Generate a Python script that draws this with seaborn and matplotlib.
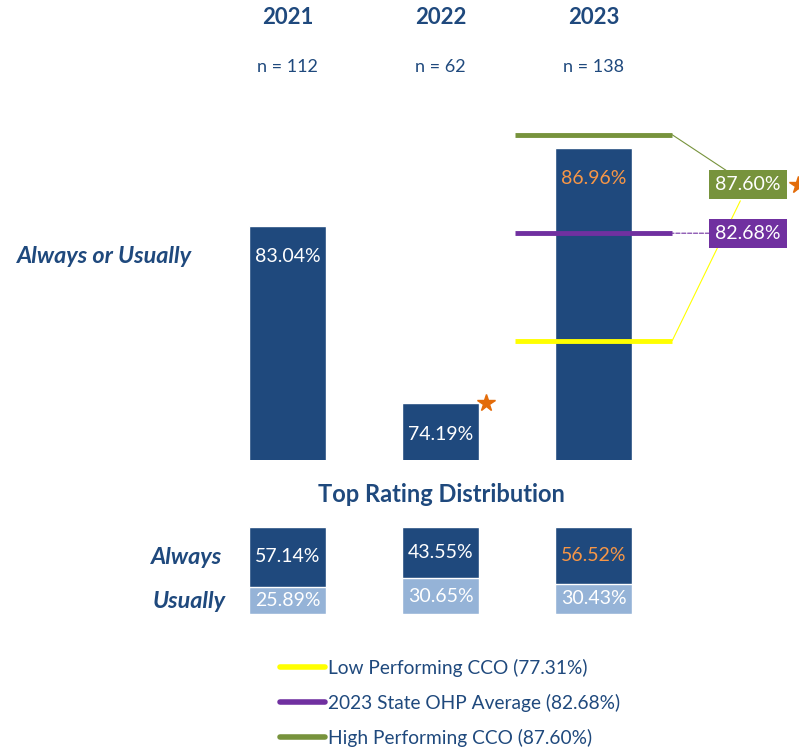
import numpy as np
import seaborn as sns
import matplotlib.pyplot as plt
from matplotlib.lines import Line2D

years = ["2021", "2022", "2023"]
n_sizes = [112, 62, 138]
always_usually = [83.04, 74.19, 86.96]
always = [57.14, 43.55, 56.52]
usually = [25.89, 30.65, 30.43]
ref_names = ["Low Performing CCO", "2023 State OHP Average", "High Performing CCO"]
ref_values = [77.31, 82.68, 87.60]
ref_colors = ["#FFFF00", "#7030A0", "#77933C"]
starred_years = ["2022"]

navy = "#1F497D"
light = "#95B3D7"
orange = "#F79646"
star_col = "#E36C0A"
txt = "#1F497D"

sns.set_theme(style="white")
plt.rcParams["font.family"] = ["Lato", "DejaVu Sans"]

fig = plt.figure(figsize=(7.99, 7.51), dpi=100)
W, H = 799, 751

def px_axes(x0, y0, x1, y1):
    return fig.add_axes([x0 / W, 1 - y1 / H, (x1 - x0) / W, (y1 - y0) / H])

# top panel
ax = px_axes(211, 100, 800, 460)
sns.barplot(x=years, y=always_usually, ax=ax, color=navy, width=0.5, saturation=1)
ax.set_xlim(-0.5, 3.35)
ax.set_ylim(71.34, 89.34)
ax.axis("off")

for i, v in enumerate(always_usually):
    c = orange if years[i] == "2023" else "white"
    ax.text(i, v - 1.55, f"{v:.2f}%", ha="center", va="center", color=c, fontsize=14)
    ax.text(i, 1.23, years[i], transform=ax.get_xaxis_transform(), ha="center",
            va="center", fontsize=16, fontweight="bold", color=txt)
    ax.text(i, 1.092, f"n = {n_sizes[i]}", transform=ax.get_xaxis_transform(),
            ha="center", va="center", fontsize=13, color=txt)
    if years[i] in starred_years:
        ax.plot(i + 0.3, v, marker="*", color=star_col, markersize=13, clip_on=False)

# reference lines over 2023
last = len(years) - 1
for name, val, col in zip(ref_names, ref_values, ref_colors):
    ax.hlines(val, last - 0.515, last + 0.515, color=col, lw=3.5, label=f"{name} ({val:.2f}%)")

box_x = 3.01
line_end = last + 0.515
green_y = ref_values[2] - 2.5
ax.annotate(f"{ref_values[2]:.2f}%", xy=(line_end, ref_values[2]), xytext=(box_x, green_y),
            ha="center", va="center", color="white", fontsize=14,
            bbox=dict(boxstyle="square,pad=0.3", fc=ref_colors[2], ec="none"),
            arrowprops=dict(arrowstyle="-", color=ref_colors[2], lw=0.8, shrinkA=0, shrinkB=0))
ax.annotate(f"{ref_values[1]:.2f}%", xy=(line_end, ref_values[1]), xytext=(box_x, ref_values[1]),
            ha="center", va="center", color="white", fontsize=14,
            bbox=dict(boxstyle="square,pad=0.3", fc=ref_colors[1], ec="none"),
            arrowprops=dict(arrowstyle="-", color=ref_colors[1], lw=0.8, ls="--",
                            shrinkA=0, shrinkB=0))
ax.annotate("", xy=(line_end, ref_values[0]), xytext=(box_x - 0.05, green_y - 0.8),
            arrowprops=dict(arrowstyle="-", color=ref_colors[0], lw=0.8, shrinkA=0, shrinkB=0),
            zorder=0)
ax.plot(box_x + 0.33, green_y, marker="*", color=star_col, markersize=13, clip_on=False)

fig.text(105 / W, 1 - 257 / H, "Always or Usually", ha="center", va="center",
         fontsize=16.8, fontweight="bold", fontstyle="italic", color=txt)

# bottom panel: top rating distribution
totals = np.array(always) + np.array(usually)
always_share = np.array(always) / totals
usually_share = np.array(usually) / totals

ax2 = px_axes(211, 527, 800, 614)
sns.barplot(x=years, y=always_share + usually_share, ax=ax2, color=navy, width=0.5, saturation=1)
sns.barplot(x=years, y=usually_share, ax=ax2, color=light, width=0.5, saturation=1)
ax2.set_xlim(-0.5, 3.35)
ax2.set_ylim(0, 1)
ax2.axis("off")

for i in range(len(years)):
    c = orange if years[i] == "2023" else "white"
    ax2.text(i, usually_share[i] + always_share[i] / 2, f"{always[i]:.2f}%",
             ha="center", va="center", color=c, fontsize=14)
    ax2.text(i, usually_share[i] / 2, f"{usually[i]:.2f}%",
             ha="center", va="center", color="white", fontsize=14)

fig.text(441 / W, 1 - 495 / H, "Top Rating Distribution", ha="center", va="center",
         fontsize=17, fontweight="bold", color=txt)
fig.text(222 / W, 1 - 557 / H, "Always", ha="right", va="center",
         fontsize=16.8, fontweight="bold", fontstyle="italic", color=txt)
fig.text(226 / W, 1 - 602 / H, "Usually", ha="right", va="center",
         fontsize=16.8, fontweight="bold", fontstyle="italic", color=txt)

handles = [Line2D([], [], color=c, lw=4) for c in ref_colors]
labels = [f"{n} ({v:.2f}%)" for n, v in zip(ref_names, ref_values)]
leg = fig.legend(handles, labels, loc="upper left", bbox_to_anchor=(280 / W, 1 - 659 / H),
                 frameon=False, fontsize=13.8, handlelength=2.35, handletextpad=0.15,
                 labelspacing=0.87, borderpad=0, borderaxespad=0)
for t in leg.get_texts():
    t.set_color(txt)

fig.savefig("out.png", dpi=100)
